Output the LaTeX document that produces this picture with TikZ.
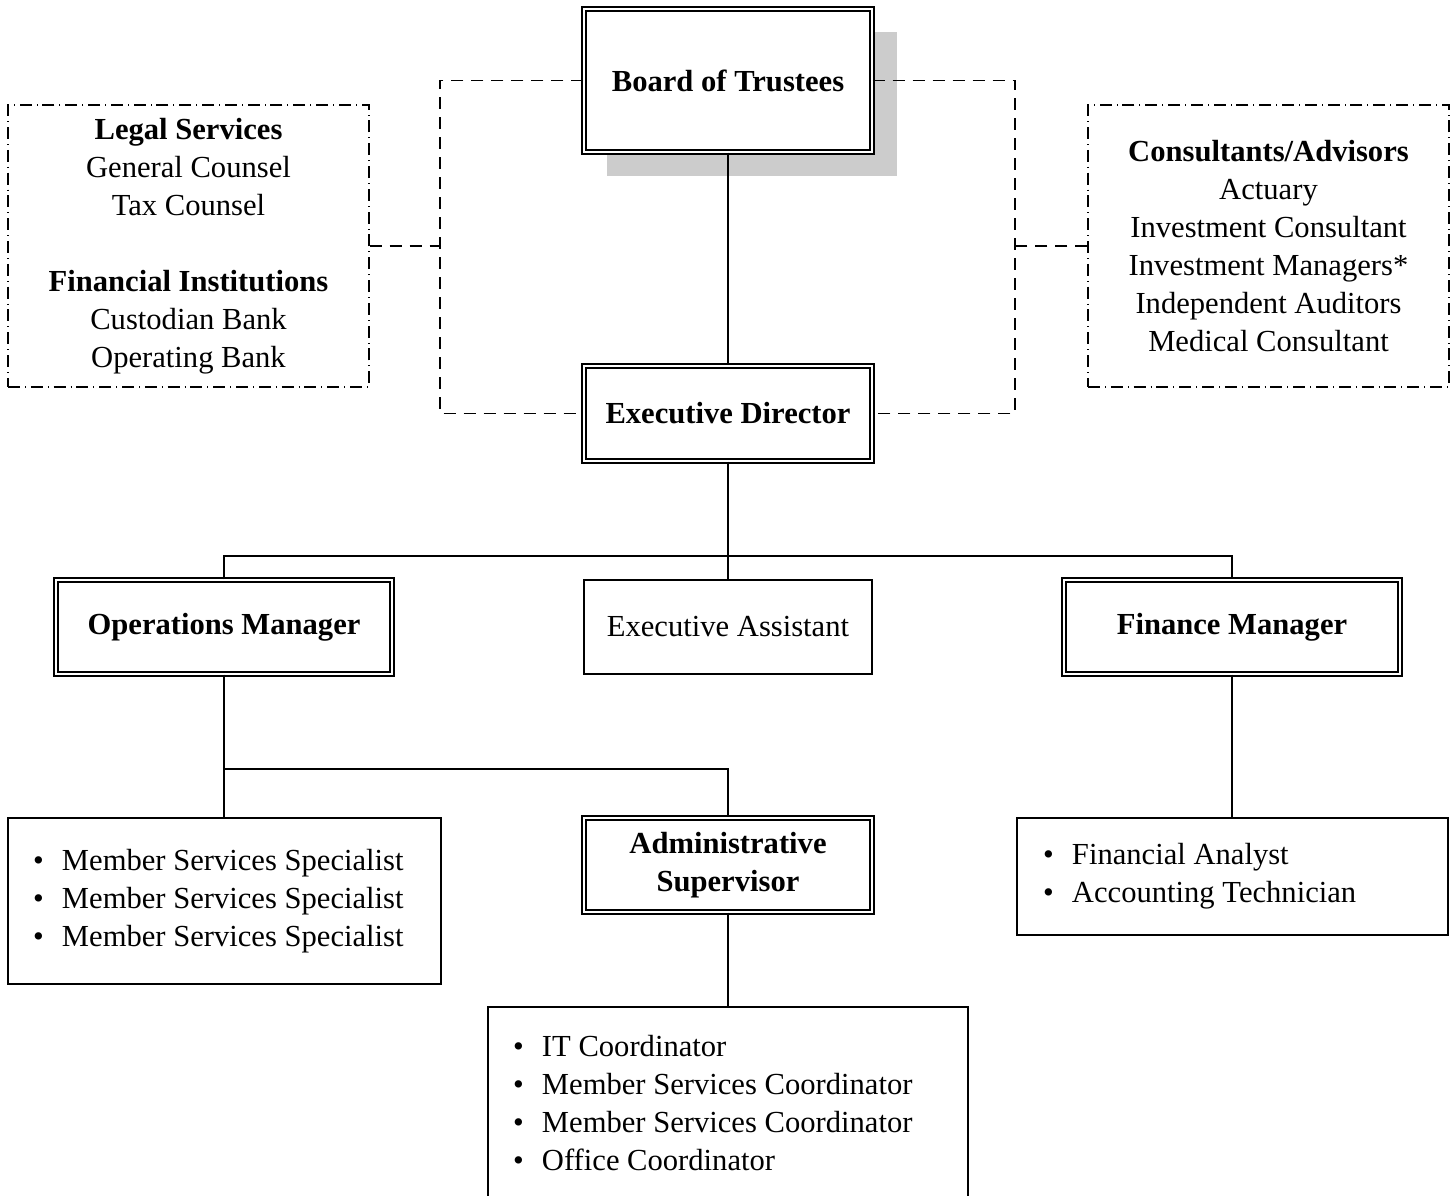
\documentclass[tikz,border=0pt]{standalone}
\usepackage{fontspec}
\setmainfont{Liberation Serif}
\newcommand\blt{\makebox[14.5pt][l]{\textbullet}}
\begin{document}
\begin{tikzpicture}[x=0.5pt,y=-0.5pt,
		font=\fontsize{15.3}{19}\selectfont,
		box/.style={draw,line width=0.7pt,fill=white,inner sep=0pt,align=center},
		dbox/.style={box,double,double distance=1.2pt},
		lbox/.style={box,align=flush left},
		dashbox/.style={draw,line width=0.7pt,dash pattern=on 6pt off 2.5pt on 0.4pt off 2.5pt,inner sep=0pt,align=center},
		link/.style={line width=0.8pt},
		dlink/.style={line width=0.8pt,dash pattern=on 6pt off 4pt}]
				\useasboundingbox (0,0) rectangle (1455,1195);
				\clip (0,0) rectangle (1455,1195);
				\fill[black!20](607,32) rectangle (897,176);
				\node[dbox,minimum width=144pt,minimum height=71.5pt] (bot) at (728,80.5) {\textbf{Board of Trustees}};
				\node[dbox,minimum width=144pt,minimum height=47.5pt] (ed) at (728,413.5) {\textbf{Executive Director}};
				\node[dashbox,minimum width=180.5pt,minimum height=141pt] (legal) at (188.5,246) {\textbf{Legal Services}\\General Counsel\\Tax Counsel\\[19pt]\textbf{Financial Institutions}\\Custodian Bank\\Operating Bank};
				\node[dashbox,minimum width=180.5pt,minimum height=141pt] (consult) at (1268.5,246) {\textbf{Consultants/Advisors}\\Actuary\\Investment Consultant\\Investment Managers*\\Independent Auditors\\Medical Consultant};
				\node[dbox,minimum width=168pt,minimum height=47pt] (ops) at (224,627) {\textbf{Operations Manager}};
				\node[box,minimum width=144pt,minimum height=47pt] (ea) at (728,627) {Executive Assistant};
				\node[dbox,minimum width=168pt,minimum height=47pt] (fin) at (1232,627) {\textbf{Finance Manager}};
				\node[lbox,minimum width=216.5pt,minimum height=83pt,text width=191.5pt] (ms) at (224.5,901) {\blt Member Services Specialist\\\blt Member Services Specialist\\\blt Member Services Specialist};
				\node[dbox,minimum width=144pt,minimum height=47pt] (adm) at (728,865) {\textbf{Administrative}\\\textbf{Supervisor}};
				\node[lbox,minimum width=215.5pt,minimum height=58.5pt,text width=189.5pt] (fs) at (1232.5,876.5) {\blt Financial Analyst\\\blt Accounting Technician};
				\node[lbox,minimum width=240pt,minimum height=96pt,text width=215pt] (it) at (728,1103) {\blt IT Coordinator\\\blt Member Services Coordinator\\\blt Member Services Coordinator\\\blt Office Coordinator};
				\coordinate (lt) at (440,80.5);
				\coordinate (rt) at (1015,80.5);
				\coordinate (j1) at (728,556);
				\coordinate (j2) at (224,769);
				\draw[dlink](bot.west)--(lt)|-(ed.west);
				\draw[dlink](bot.east)--(rt)|-(ed.east);
				\draw[dlink](legal.east)--(legal.east-|lt);
				\draw[dlink](consult.west)--(consult.west-|rt);
				\draw[link](bot)--(ed);
				\draw[link](ed)--(j1);
				\draw[link](ops.north)|-(j1)-|(fin.north);
				\draw[link](j1)--(ea);
				\draw[link](ops)--(j2)--(j2|-ms.north);
				\draw[link](j2)-|(adm.north);
				\draw[link](adm)--(it);
				\draw[link](fin)--(fin|-fs.north);
			\end{tikzpicture}
\end{document}
